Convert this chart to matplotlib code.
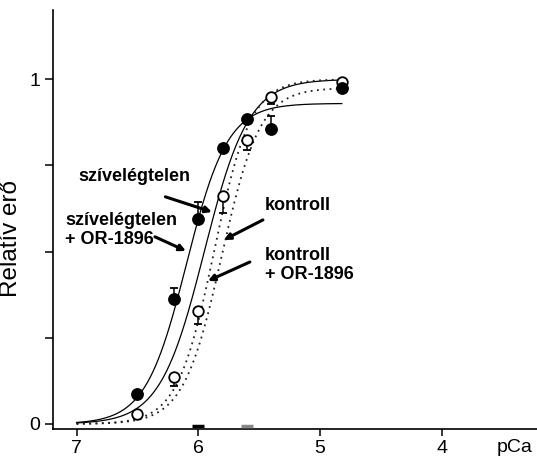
import numpy as np
import matplotlib
matplotlib.use('Agg')
import matplotlib.pyplot as plt

plt.rcParams['font.family'] = ['Liberation Sans', 'DejaVu Sans']

# adatok: pCa és relatív erő
pca_sziv = [6.5, 6.2, 6.0, 5.8, 5.6, 5.4, 4.82]
ero_sziv = [0.086, 0.363, 0.595, 0.80, 0.884, 0.856, 0.974]
hiba_sziv_fel = [0.01, 0.032, 0.048, 0.0, 0.0, 0.036, 0.0]

pca_kontroll = [6.5, 6.2, 6.0, 5.8, 5.6, 5.4, 4.82]
ero_kontroll = [0.029, 0.135, 0.328, 0.66, 0.824, 0.95, 0.993]
hiba_kontroll_le = [0.01, 0.025, 0.038, 0.048, 0.029, 0.022, 0.0]

# illesztett Hill-görbék paraméterei: Fmax, pCa50, n
gorbe_nevek = ['szívelégtelen + OR-1896', 'szívelégtelen', 'kontroll + OR-1896', 'kontroll']
fmax = [0.93, 1.0, 1.0, 0.975]
pca50 = [6.096, 5.95, 5.87, 5.807]
hill_n = [2.57, 2.39, 2.87, 2.76]
stilus = ['-', '-', (0, (1, 2.5)), (0, (1, 2.5))]

# kis jelek a nulla szinten
nulla_pca = [6.0, 5.6]
nulla_szin = ['black', '#888888']

fig = plt.figure(figsize=(5.37, 4.58), dpi=100)
ax = fig.add_axes([0.098, 0.0627, 0.902, 0.9155])

p = np.linspace(7.0, 4.82, 300)
for i in range(4):
    f = fmax[i] / (1 + 10 ** (hill_n[i] * (p - pca50[i])))
    ax.plot(p, f, color='black' if stilus[i] == '-' else '#222222',
            lw=0.9 if stilus[i] == '-' else 1.3, linestyle=stilus[i], zorder=2)

ax.errorbar(pca_sziv, ero_sziv, yerr=[np.zeros(len(pca_sziv)), hiba_sziv_fel],
            fmt='none', ecolor='black', elinewidth=1.1, capsize=3, capthick=1.3, zorder=3)
ax.errorbar(pca_kontroll, ero_kontroll, yerr=[hiba_kontroll_le, np.zeros(len(pca_kontroll))],
            fmt='none', ecolor='black', elinewidth=1.1, capsize=3, capthick=1.3, zorder=3)
ax.plot(pca_kontroll, ero_kontroll, 'o', ms=7.6, mfc='white', mec='black', mew=1.3, zorder=4)
ax.plot(pca_sziv, ero_sziv, 'o', ms=8.2, mfc='black', mec='black', zorder=5)

for xp, c in zip(nulla_pca, nulla_szin):
    ax.plot([xp], [-0.006], marker='_', ms=8, mew=2.5, color=c, clip_on=False, zorder=6)

# feliratok és nyilak
cimkek = ['szívelégtelen', 'szívelégtelen\n+ OR-1896', 'kontroll', 'kontroll\n+ OR-1896']
cimke_xy = [(6.989, 0.717), (7.096, 0.563), (5.451, 0.635), (5.451, 0.46)]
for t, (tx, ty) in zip(cimkek, cimke_xy):
    ax.text(tx, ty, t, fontsize=13, fontweight='bold', ha='left', va='center',
            linespacing=1.15)

nyil_ki = [(6.27, 0.659), (6.356, 0.543), (5.468, 0.592), (5.575, 0.470)]
nyil_be = [(5.887, 0.615), (6.101, 0.502), (5.789, 0.534), (5.920, 0.415)]
for s, e in zip(nyil_ki, nyil_be):
    ax.annotate('', xy=e, xytext=s,
                arrowprops=dict(arrowstyle='-|>', lw=2.2, color='black',
                                mutation_scale=9, shrinkA=0, shrinkB=0))

ax.set_xlim(7.197, 3.215)
ax.set_ylim(-0.0154, 1.201)
ax.set_xticks([7, 6, 5, 4])
ax.set_xticklabels(['7', '6', '5', '4'])
ax.set_yticks([0, 0.25, 0.5, 0.75, 1])
ax.set_yticklabels(['0', '', '', '', '1'])
ax.tick_params(axis='x', direction='out', length=5, width=1.1, labelsize=14, pad=3)
ax.tick_params(axis='y', direction='out', length=6, width=1.1, labelsize=14, pad=3)
for side in ['top', 'right']:
    ax.spines[side].set_visible(False)
for side in ['left', 'bottom']:
    ax.spines[side].set_linewidth(1.2)

ax.set_ylabel('Relatív erő', fontsize=17.5)
ax.yaxis.set_label_coords(-0.0634, 0.454)
ax.text(3.396, -0.068, 'pCa', fontsize=14, ha='center', va='center', clip_on=False)

fig.savefig('out.png', dpi=100)
